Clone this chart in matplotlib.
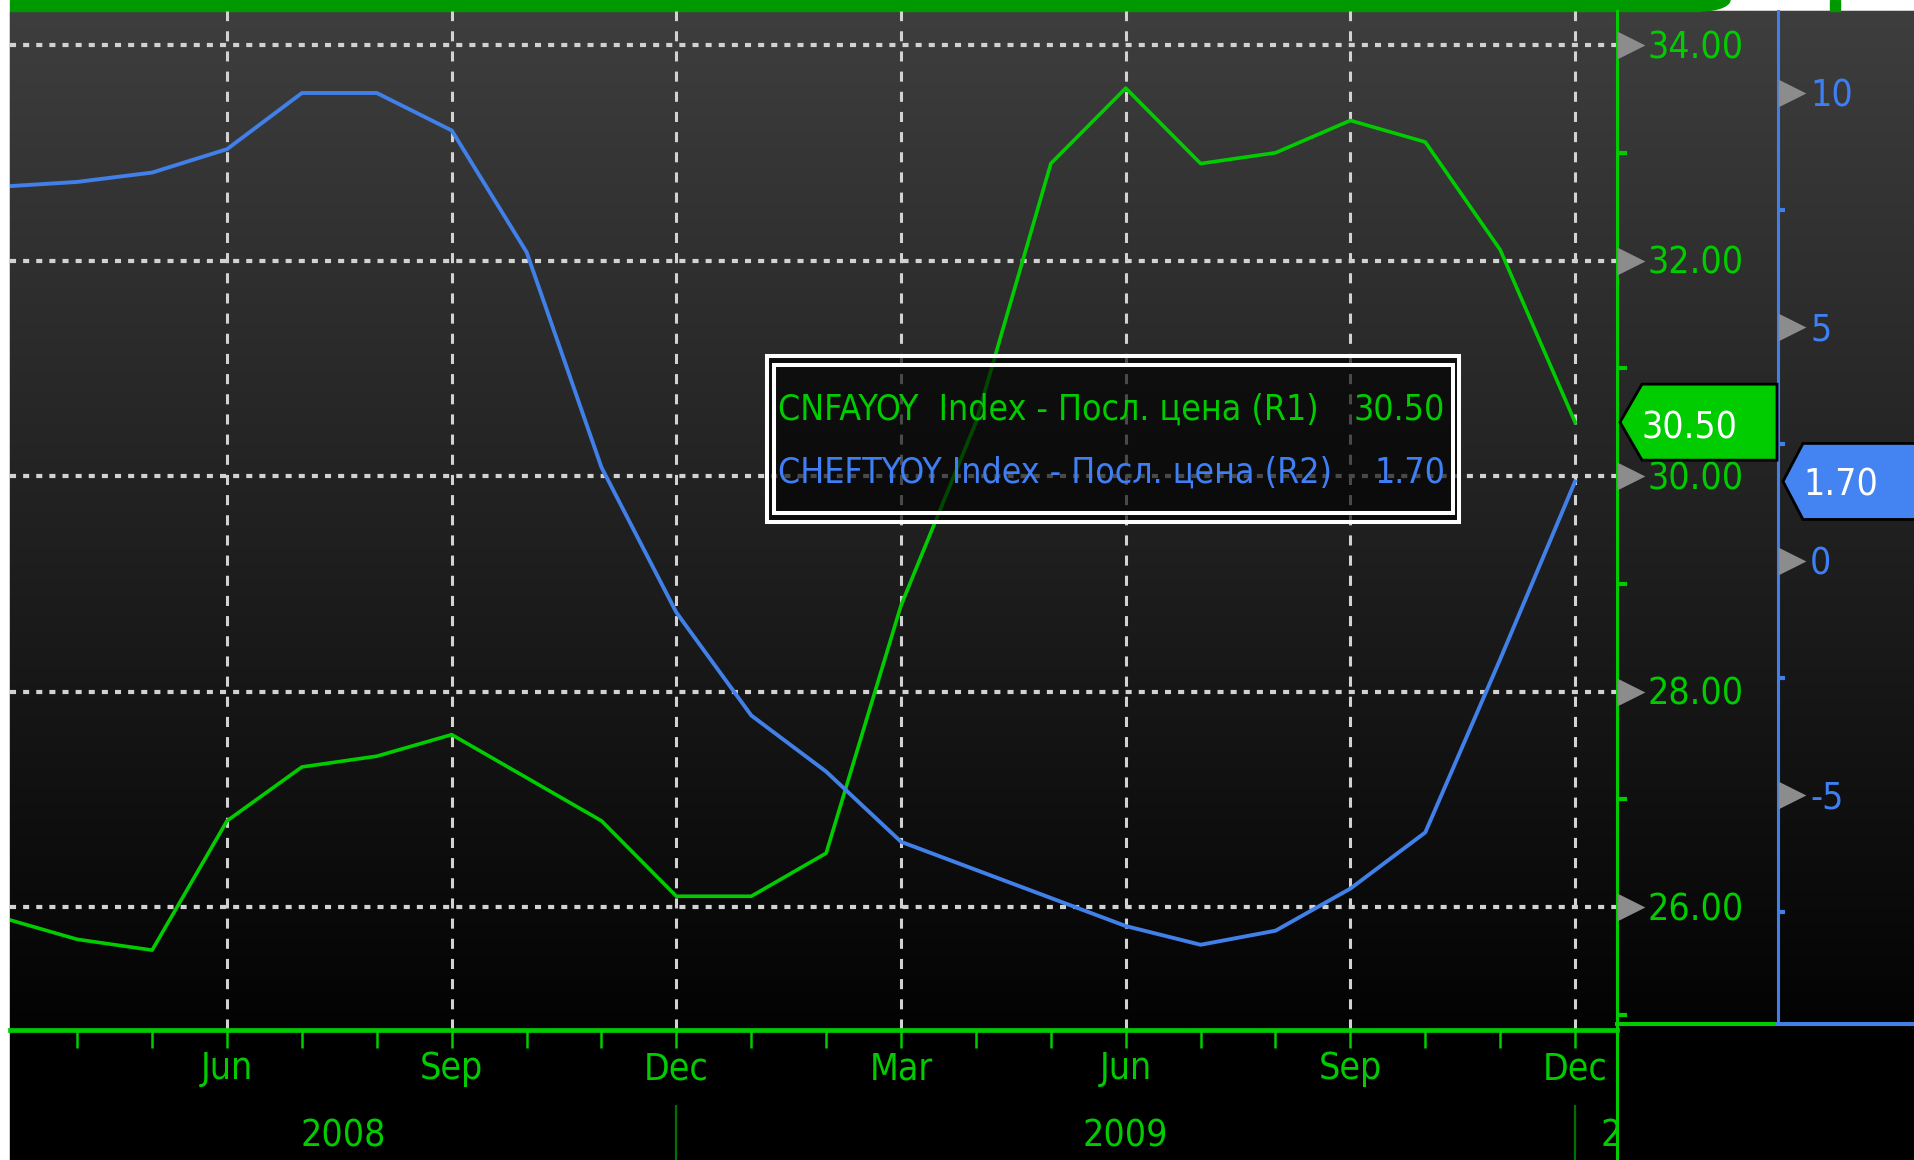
#
# plot.py
#   - CNFAYOY vs CHEFTYOY, Bloomberg-style dual axis chart.
#

import os
import numpy as np
import matplotlib
matplotlib.use('Agg')
import matplotlib.pyplot as plt
import matplotlib.transforms as mtransforms
from matplotlib.patches import Rectangle, Polygon, Ellipse
from matplotlib import font_manager
from matplotlib.font_manager import FontProperties

W, H, DPI = 1914, 1160, 100

# monthly data, Mar 2008 .. Dec 2009
months = ['2008-03', '2008-04', '2008-05', '2008-06', '2008-07', '2008-08',
          '2008-09', '2008-10', '2008-11', '2008-12',
          '2009-01', '2009-02', '2009-03', '2009-04', '2009-05', '2009-06',
          '2009-07', '2009-08', '2009-09', '2009-10', '2009-11', '2009-12']
cnfayoy = [25.9, 25.7, 25.6, 26.8, 27.3, 27.4, 27.6, 27.2, 26.8, 26.1,
           26.1, 26.5, 28.8, 30.5, 32.9, 33.6, 32.9, 33.0, 33.3, 33.1, 32.1, 30.5]
cheftyoy = [8.0, 8.1, 8.3, 8.8, 10.0, 10.0, 9.2, 6.6, 2.0, -1.1,
            -3.3, -4.5, -6.0, -6.6, -7.2, -7.8, -8.2, -7.9, -7.0, -5.8, -2.1, 1.7]

r1_ticks = [26, 28, 30, 32, 34]
r1_minor = [25, 27, 29, 31, 33]
r2_ticks = [-5, 0, 5, 10]
r2_minor = [-7.5, -2.5, 2.5, 7.5]
month_names = {3: 'Mar', 6: 'Jun', 9: 'Sep', 12: 'Dec'}

legend_rows = ['CNFAYOY  Index - Посл. цена (R1)',
               'CHEFTYOY Index - Посл. цена (R2)']

GREEN = '#00cc00'
BLUE = '#4080e8'
BLUE_TXT = '#3f7ff5'
GRID = '#d2d2d2'
ARROW = '#8c8c8c'


def pick_font():
    # narrowest installed face wins
    files = {os.path.basename(f.fname): f.fname for f in font_manager.fontManager.ttflist}
    for name in ['NotoSans-ExtraCondensed.ttf', 'NotoSans-Condensed.ttf', 'NotoSans-SemiCondensed.ttf',
                 'LiberationSansNarrow-Regular.ttf', 'DejaVuSansCondensed.ttf']:
        if name in files:
            return FontProperties(fname=files[name])
    return FontProperties(family='DejaVu Sans', stretch='condensed')


FP = pick_font()


def main():
    x = np.arange(len(months))
    xlim = (0.102, 21.56)

    fig = plt.figure(figsize=(W / DPI, H / DPI), dpi=DPI, facecolor='white')
    renderer = fig.canvas.get_renderer()

    def fit(s, width_px):
        t = fig.text(0, 0, s, fontproperties=FP, fontsize=10)
        w = t.get_window_extent(renderer=renderer).width
        t.remove()
        return 10.0 * width_px / w

    FS = min(fit('34.00', 96), 40)
    FS_LEG = min(FS * 1.05, fit(legend_rows[0], 542))
    half = FS / 2.0          # half cap height in px (cap ~ 0.72 em)
    half_leg = FS_LEG / 2.0

    # background layer in pixel coordinates
    bg = fig.add_axes([0, 0, 1, 1], zorder=0)
    bg.add_patch(Rectangle((10, 11), W - 10, H - 11, color='black', zorder=1))
    grad = np.linspace(0x3e, 0x03, 256) / 255.0
    grad = np.dstack([grad, grad, grad]).reshape(256, 1, 3)
    bg.imshow(grad, extent=[10, W, 1029, 11], aspect='auto', interpolation='bilinear', zorder=2)
    bg.add_patch(Rectangle((10, 0), 1690, 11, color='#009900', zorder=3))
    bg.add_patch(Ellipse((1700, 0), 60, 22, color='#009900', zorder=3))
    bg.add_patch(Rectangle((1830, 0), 10, 11, color='#009900', zorder=3))
    bg.set_xlim(0, W)
    bg.set_ylim(H, 0)
    bg.axis('off')

    # main plot (R1) and twin (R2)
    ax = fig.add_axes([10 / W, (H - 1029) / H, 1607 / W, 1018 / H], zorder=1)
    ax.patch.set_visible(False)
    ax.set_xlim(*xlim)
    ax.set_ylim(24.868, 34.316)
    ax.axis('off')

    for v in r1_ticks:
        ax.axhline(v, color=GRID, lw=3.0, dashes=(1.45, 1.7), zorder=1)
    major = [i for i, m in enumerate(months) if int(m[5:]) in month_names and xlim[0] < i < xlim[1]]
    for i in major:
        ax.axvline(i, color=GRID, lw=2.2, dashes=(3.3, 3.3), zorder=1)

    ax.plot(x, cnfayoy, color=GREEN, lw=2.6, zorder=3)

    ax2 = ax.twinx()
    ax2.set_zorder(2)
    ax2.patch.set_visible(False)
    ax2.set_ylim(-10.0, 11.752)
    ax2.plot(x, cheftyoy, color=BLUE, lw=2.8, zorder=3)
    ax2.axis('off')

    # overlay in pixel coordinates
    top = fig.add_axes([0, 0, 1, 1], zorder=3)
    top.set_xlim(0, W)
    top.set_ylim(H, 0)
    top.set_autoscale_on(False)
    top.axis('off')
    top.patch.set_visible(False)

    r1y = mtransforms.blended_transform_factory(top.transData, ax.transData)
    r2y = mtransforms.blended_transform_factory(top.transData, ax2.transData)
    xm = mtransforms.blended_transform_factory(ax.transData, top.transData)

    def down(tr, dy, dx=0):
        return mtransforms.offset_copy(tr, fig=fig, x=dx, y=-dy, units='dots')

    txt = dict(fontproperties=FP, fontsize=FS, va='baseline')

    # axis lines
    top.plot([1617, 1617], [11, H], color=GREEN, lw=2.2, zorder=2)
    top.plot([1778, 1778], [11, 1024], color=BLUE, lw=2.2, zorder=2)
    top.plot([1617, 1778], [1024, 1024], color=GREEN, lw=2.9, zorder=2)
    top.plot([1778, W], [1024, 1024], color=BLUE, lw=2.9, zorder=2)
    top.plot([10, 1617], [1030, 1030], color=GREEN, lw=3.4, zorder=2)

    tri = [(-1, -1), (1, 0), (-1, 1)]
    # R1 axis
    top.plot([1631] * len(r1_ticks), r1_ticks, transform=r1y, ls='none', marker=tri,
             ms=20, mfc=ARROW, mec='none', clip_on=False, zorder=3)
    top.hlines(r1_minor, 1617, 1627, transform=r1y, color=GREEN, lw=3, zorder=3)
    for v in r1_ticks:
        top.text(1648, v, '{:.2f}'.format(v), transform=down(r1y, half), color=GREEN,
                 ha='left', **txt)
    # R2 axis
    top.plot([1792] * len(r2_ticks), r2_ticks, transform=r2y, ls='none', marker=tri,
             ms=20, mfc=ARROW, mec='none', clip_on=False, zorder=3)
    top.hlines(r2_minor, 1778, 1785, transform=r2y, color=BLUE, lw=3, zorder=3)
    for v in r2_ticks:
        top.text(1810, v, '{:d}'.format(v), transform=down(r2y, half), color=BLUE_TXT,
                 ha='left', **txt)

    # x axis ticks and labels
    visible = [i for i in x if xlim[0] < i < xlim[1]]
    top.vlines(visible, 1030, 1048, transform=xm, color=GREEN, lw=1.8, zorder=3)
    for i in major:
        top.text(i, 1066 + half, month_names[int(months[i][5:])], transform=xm, color=GREEN,
                 ha='center', **txt)

    dec = [i for i, m in enumerate(months) if m.endswith('-12')]
    top.vlines(dec, 1105, H, transform=xm, color='#007000', lw=1.6, zorder=3)
    top.text((xlim[0] + dec[0]) / 2, 1133 + half, months[0][:4], transform=xm, color=GREEN,
             ha='center', **txt)
    top.text((dec[0] + dec[1]) / 2, 1133 + half, months[-1][:4], transform=xm, color=GREEN,
             ha='center', **txt)
    t = top.text(dec[1], 1133 + half, str(int(months[-1][:4]) + 1), transform=down(xm, 0, 25),
                 color=GREEN, ha='left', clip_on=True, **txt)
    t.set_clip_path(Rectangle((10, 1031), 1606, 129, transform=top.transData))

    # legend box
    top.add_patch(Rectangle((765, 354), 696, 170, facecolor='black', alpha=0.65, lw=0, zorder=5))
    top.add_patch(Rectangle((767, 356), 692, 166, fill=False, ec='white', lw=2.9, zorder=6))
    top.add_patch(Rectangle((774, 365), 679, 148, fill=False, ec='white', lw=2.9, zorder=6))
    leg = dict(fontproperties=FP, fontsize=FS_LEG, va='baseline', zorder=7)
    top.text(778, 407 + half_leg, legend_rows[0], color=GREEN, ha='left', **leg)
    top.text(1445, 407 + half_leg, '{:.2f}'.format(cnfayoy[-1]), color=GREEN, ha='right', **leg)
    top.text(778, 470 + half_leg, legend_rows[1], color=BLUE_TXT, ha='left', **leg)
    top.text(1445, 470 + half_leg, '{:.2f}'.format(cheftyoy[-1]), color=BLUE_TXT, ha='right', **leg)

    # last value flags
    inv = top.transData.inverted()
    y1 = inv.transform(ax.transData.transform((0, cnfayoy[-1])))[1]
    y2 = inv.transform(ax2.transData.transform((0, cheftyoy[-1])))[1]
    top.add_patch(Polygon([(1620, y1), (1642, y1 - 38), (1777, y1 - 38), (1777, y1 + 38), (1642, y1 + 38)],
                          closed=True, fc=GREEN, ec='black', lw=2, zorder=8))
    top.text(1642, y1 + 3 + half, '{:.2f}'.format(cnfayoy[-1]), color='white', ha='left',
             zorder=9, **txt)
    top.add_patch(Polygon([(1783, y2), (1803, y2 - 38), (W + 5, y2 - 38), (W + 5, y2 + 38), (1803, y2 + 38)],
                          closed=True, fc='#4383f2', ec='black', lw=2, zorder=8))
    top.text(1803, y2 + 1 + half, '{:.2f}'.format(cheftyoy[-1]), color='white', ha='left',
             zorder=9, **txt)

    fig.savefig('out.png', dpi=DPI, facecolor='white')


if __name__ == "__main__":
    main()
